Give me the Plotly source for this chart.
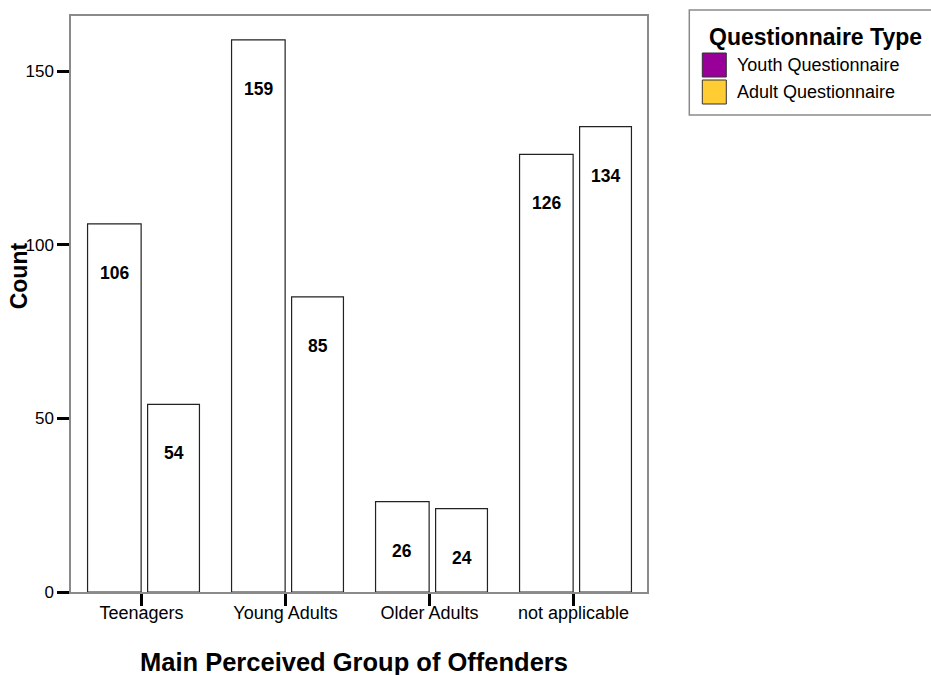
import plotly.graph_objects as go

# Counts by main perceived group of offenders, split by questionnaire type
categories = ["Teenagers", "Young Adults", "Older Adults", "not applicable"]
youth_counts = [106, 159, 26, 126]
adult_counts = [54, 85, 24, 134]
series_names = ["Youth Questionnaire", "Adult Questionnaire"]
series_colors = ["#990099", "#FFCC33"]
y_ticks = [0, 50, 100, 150]

FONT = "Liberation Sans, Arial, sans-serif"
W, H = 931, 675
# plot area in pixels
L, R, T, B = 70.7, 646.7, 16, 592


def px(x):
    return (x - L) / (R - L)


def py(y):
    return (B - y) / (B - T)


xs = list(range(len(categories)))
bar_specs = [
    (youth_counts, -0.375, 0.372),
    (adult_counts, 0.042, 0.36),
]

fig = go.Figure()
annotations = []
for (vals, off, wid), name in zip(bar_specs, series_names):
    fig.add_trace(go.Bar(
        x=xs, y=vals, name=name, offset=off, width=wid,
        marker=dict(color="white", line=dict(color="#222222", width=1.2)),
        showlegend=False, hoverinfo="skip",
    ))
    for xi, v in zip(xs, vals):
        annotations.append(dict(
            x=xi + off + wid / 2, y=v, xref="x", yref="y",
            text=f"<b>{v}</b>", showarrow=False, yshift=-49,
            yanchor="middle", xanchor="center",
            font=dict(family=FONT, size=17.5, color="black"),
        ))

# axis titles
annotations.append(dict(
    x=px(354), y=py(662), xref="paper", yref="paper",
    text="<b>Main Perceived Group of Offenders</b>", showarrow=False,
    xanchor="center", yanchor="middle",
    font=dict(family=FONT, size=25.5, color="black"),
))
annotations.append(dict(
    x=px(19), y=py(276), xref="paper", yref="paper",
    text="<b>Count</b>", showarrow=False, textangle=-90,
    xanchor="center", yanchor="middle",
    font=dict(family=FONT, size=23, color="black"),
))

# legend block
shapes = [dict(
    type="rect", xref="paper", yref="paper",
    x0=px(689), x1=px(945), y0=py(115), y1=py(10),
    line=dict(color="#8a8a8a", width=1.5), fillcolor="white", layer="below",
)]
annotations.append(dict(
    x=px(707), y=py(37.5), xref="paper", yref="paper",
    text="<b>Questionnaire Type</b>", showarrow=False,
    xanchor="left", yanchor="middle",
    font=dict(family=FONT, size=23, color="black"),
))
for i, (name, color) in enumerate(zip(series_names, series_colors)):
    top = 53 + i * 27
    shapes.append(dict(
        type="rect", xref="paper", yref="paper",
        x0=px(702), x1=px(726), y0=py(top + 24), y1=py(top),
        line=dict(color="#333333", width=1), fillcolor=color,
    ))
    annotations.append(dict(
        x=px(735), y=py(top + 12), xref="paper", yref="paper",
        text=name, showarrow=False, xanchor="left", yanchor="middle",
        font=dict(family=FONT, size=18, color="black"),
    ))

fig.update_layout(
    width=W, height=H,
    margin=dict(l=L, r=W - R, t=T, b=H - B, pad=0),
    paper_bgcolor="white", plot_bgcolor="white",
    barmode="overlay",
    font=dict(family=FONT, size=18, color="black"),
    annotations=annotations, shapes=shapes,
    xaxis=dict(
        range=[-0.49, 3.51], tickvals=xs, ticktext=categories,
        ticks="outside", ticklen=12, tickwidth=3, tickcolor="black",
        ticklabelstandoff=-8,
        showline=True, linecolor="#8a8a8a", linewidth=1.5, mirror=True,
        showgrid=False, zeroline=False, fixedrange=True,
        tickfont=dict(family=FONT, size=18, color="black"),
    ),
    yaxis=dict(
        range=[0, 165.85], tickvals=y_ticks,
        ticks="outside", ticklen=12, tickwidth=3, tickcolor="black",
        showline=True, linecolor="#8a8a8a", linewidth=1.5, mirror=True,
        showgrid=False, zeroline=False, fixedrange=True,
        tickfont=dict(family=FONT, size=17, color="black"),
    ),
    showlegend=False,
)

fig.write_html("out.html")
